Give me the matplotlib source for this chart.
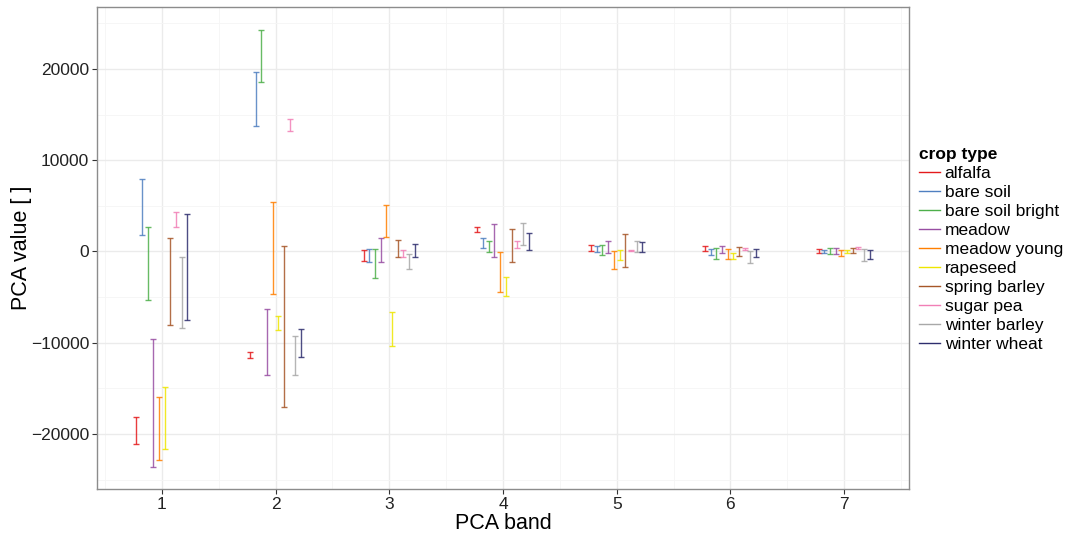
import matplotlib
matplotlib.use("Agg")
import matplotlib.pyplot as plt
import numpy as np
from matplotlib.lines import Line2D
from matplotlib.ticker import MultipleLocator

plt.rcParams["font.family"] = ["Liberation Sans", "DejaVu Sans"]

BANDS = [1, 2, 3, 4, 5, 6, 7]
CROPS = [
    "alfalfa", "bare soil", "bare soil bright", "meadow", "meadow young",
    "rapeseed", "spring barley", "sugar pea", "winter barley", "winter wheat",
]
COLORS = [
    "#E41A1C", "#4F7FC0", "#4DAF4A", "#984EA3", "#FF7F00",
    "#EEE600", "#A65628", "#F17FB6", "#A8A8A8", "#2E2E6E",
]

# upper / lower end of each error bar per PCA band
alfalfa_hi = [-18100, -11050, 110, 2700, 660, 620, 220]
alfalfa_lo = [-21150, -11710, -1030, 2080, 30, 70, -150]
bare_soil_hi = [7900, 19700, 220, 1430, 580, 220, 140]
bare_soil_lo = [1760, 13780, -1140, 330, -40, -440, -190]
bare_soil_bright_hi = [2630, 24310, 220, 1100, 660, 400, 330]
bare_soil_bright_lo = [-5340, 18570, -2960, -110, -440, -840, -260]
meadow_hi = [-9620, -6300, 1460, 3030, 1160, 580, 400]
meadow_lo = [-23660, -13570, -1210, -660, -220, -220, -330]
meadow_young_hi = [-15910, 5380, 5050, -40, 0, 220, 140]
meadow_young_lo = [-22900, -4680, 1600, -4470, -1940, -810, -550]
rapeseed_hi = [-14810, -7020, -6630, -2790, 110, -150, 180]
rapeseed_lo = [-21610, -8630, -10360, -4900, -990, -880, -190]
spring_barley_hi = [1460, 580, 1270, 2480, 1930, 440, 330]
spring_barley_lo = [-8050, -17050, -590, -1170, -1720, -550, -220]
sugar_pea_hi = [4280, 14510, 180, 1100, 180, 360, 510]
sugar_pea_lo = [2630, 13160, -590, 360, 30, 110, 290]
winter_barley_hi = [-660, -9260, -260, 3140, 1160, 30, 220]
winter_barley_lo = [-8380, -13490, -1910, 660, -80, -1280, -1030]
winter_wheat_hi = [4130, -8520, 830, 2040, 1050, 220, 110]
winter_wheat_lo = [-7500, -11600, -630, 140, -110, -590, -810]

upper = [alfalfa_hi, bare_soil_hi, bare_soil_bright_hi, meadow_hi, meadow_young_hi,
         rapeseed_hi, spring_barley_hi, sugar_pea_hi, winter_barley_hi, winter_wheat_hi]
lower = [alfalfa_lo, bare_soil_lo, bare_soil_bright_lo, meadow_lo, meadow_young_lo,
         rapeseed_lo, spring_barley_lo, sugar_pea_lo, winter_barley_lo, winter_wheat_lo]

DODGE_STEP = 0.05

fig = plt.figure(figsize=(10.66, 5.34), dpi=100)
ax = fig.add_axes([0.0910, 0.0843, 0.7617, 0.9026])

bands = np.array(BANDS, dtype=float)
n = len(CROPS)
for i, (crop, color) in enumerate(zip(CROPS, COLORS)):
    hi = np.array(upper[i], dtype=float)
    lo = np.array(lower[i], dtype=float)
    x = bands + (i - (n - 1) / 2) * DODGE_STEP
    ax.errorbar(x, (hi + lo) / 2, yerr=(hi - lo) / 2, fmt="none",
                ecolor=color, elinewidth=1.0, capsize=2.0, capthick=1.0,
                alpha=0.85)

ax.set_xlim(0.43, 7.57)
ax.set_ylim(-26030, 26790)
ax.set_xticks(BANDS)
ax.set_xticklabels([str(b) for b in BANDS])
ax.set_yticks([-20000, -10000, 0, 10000, 20000])
ax.yaxis.set_minor_locator(MultipleLocator(5000))
ax.xaxis.set_minor_locator(MultipleLocator(0.5))

ax.set_axisbelow(True)
ax.grid(which="major", color="#EBEBEB", linewidth=1.0)
ax.grid(which="minor", color="#F5F5F5", linewidth=0.6)
ax.tick_params(which="minor", length=0)
ax.tick_params(which="major", length=3.5, width=0.8, color="#333333",
               labelsize=12.5, labelcolor="#222222", pad=2)
for spine in ax.spines.values():
    spine.set_color("#8C8C8C")
    spine.set_linewidth(1.0)

ax.set_xlabel("PCA band", fontsize=15.5, labelpad=1)
ax.set_ylabel("PCA value [ ]", fontsize=15.5, labelpad=-1)

handles = [Line2D([0], [0], color=c, lw=1.0) for c in COLORS]
leg = fig.legend(handles, CROPS, title="crop type", loc="upper left",
                 bbox_to_anchor=(0.856, 0.737), frameon=False,
                 fontsize=12.5, title_fontsize=12.5, handlelength=1.2,
                 handletextpad=0.25, labelspacing=0.22, borderaxespad=0,
                 alignment="left")
leg.get_title().set_fontweight("bold")

fig.savefig("out.png", dpi=100)
